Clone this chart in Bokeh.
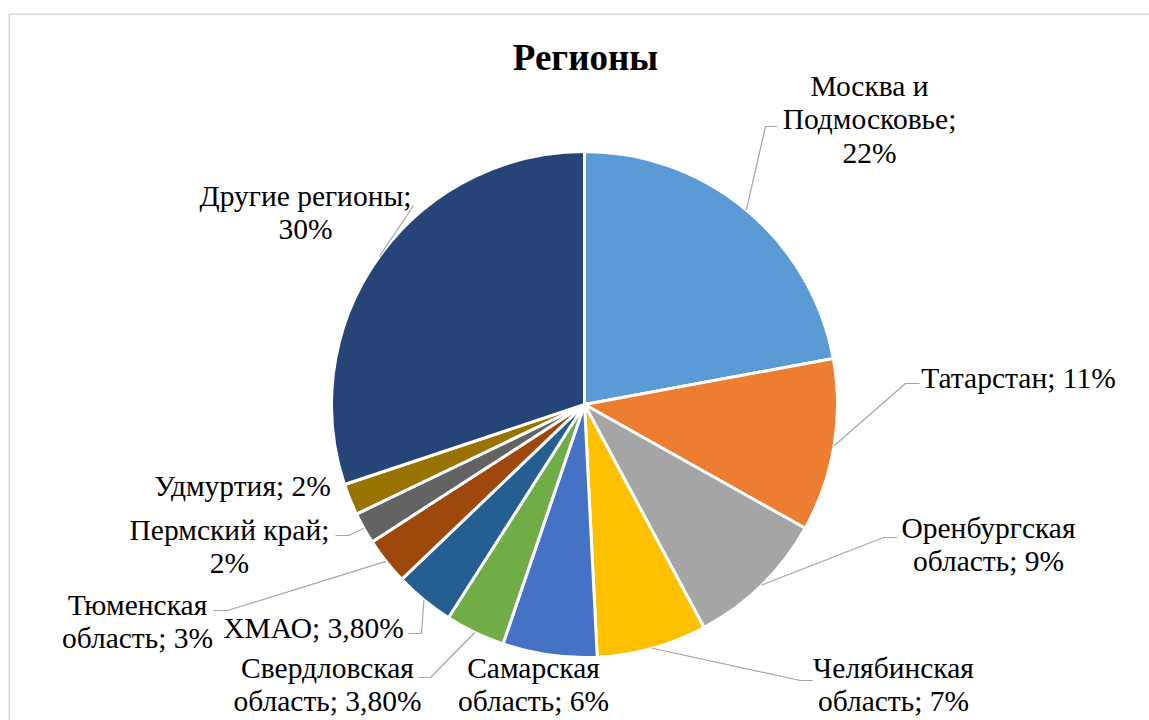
import math
from bokeh.plotting import figure
from bokeh.models import Range1d
from bokeh.core.properties import value
from bokeh.embed import file_html
from bokeh.resources import INLINE

# ---- data ----
regions = ["Москва и Подмосковье", "Татарстан", "Оренбургская область",
           "Челябинская область", "Самарская область", "Свердловская область",
           "ХМАО", "Тюменская область", "Пермский край", "Удмуртия", "Другие регионы"]
shares = [22, 11, 9, 7, 6, 3.8, 3.8, 3, 2, 2, 30]
share_labels = ["22%", "11%", "9%", "7%", "6%", "3,80%", "3,80%", "3%", "2%", "2%", "30%"]
label_texts = ["Москва и\nПодмосковье;\n22%", "Татарстан; 11%", "Оренбургская\nобласть; 9%",
               "Челябинская\nобласть; 7%", "Самарская\nобласть; 6%", "Свердловская\nобласть; 3,80%",
               "ХМАО; 3,80%", "Тюменская\nобласть; 3%", "Пермский край;\n2%", "Удмуртия; 2%",
               "Другие регионы;\n30%"]
colors = ["#5B9BD5", "#ED7D31", "#A5A5A5", "#FFC000", "#4472C4", "#70AD47",
          "#255E91", "#9E480E", "#636363", "#997300", "#264478"]
title = "Регионы"

# ---- layout (page pixel coordinates) ----
W, H = 1149, 720
def X(px): return px
def Y(py): return H - py

cx, cy, R = X(584), Y(404), 253
label_pos = [(869, 119), (1018, 377), (988, 544), (893, 684), (533, 684), (327, 684),
             (313, 627), (137, 621), (229, 546), (242, 485), (305, 212)]
# leader elbows and ends (None = no leader)
leaders = [((765, 126), (777, 126)), ((905, 383), (919, 383)), ((883, 537), (897, 537)),
           ((800, 680), (812, 680)), None, ((430, 677), (418, 677)),
           ((421, 633), (408, 633)), ((227, 610), (213, 610)), ((348, 535), (335, 535)),
           None, ((413, 205), (413, 205))]

p = figure(width=W, height=H, output_backend="svg", toolbar_location=None,
           x_range=Range1d(0, W), y_range=Range1d(0, H), min_border=0)
p.axis.visible = False
p.grid.visible = False
p.outline_line_color = None
p.background_fill_color = "white"

# chart border (top and left edges visible)
p.line(x=[X(8.7), X(8.7), W + 20], y=[-20, Y(13.7), Y(13.7)], line_color="#d9d9d9", line_width=1.6)

total = sum(shares)
starts, ends, mids = [], [], []
cum = 0.0
for s in shares:
    a0 = math.pi / 2 - 2 * math.pi * cum / total
    cum += s
    a1 = math.pi / 2 - 2 * math.pi * cum / total
    starts.append(a0); ends.append(a1); mids.append((a0 + a1) / 2)

p.wedge(x=cx, y=cy, radius=R, start_angle=starts, end_angle=ends, direction="clock",
        fill_color=colors, line_color="white", line_width=3)

# leader lines
for m, ld in zip(mids, leaders):
    if ld is None:
        continue
    sx, sy = cx + R * math.cos(m), cy + R * math.sin(m)
    (ex1, ey1), (ex2, ey2) = ld
    p.line(x=[sx, X(ex1), X(ex2)], y=[sy, Y(ey1), Y(ey2)], line_color="#a6a6a6", line_width=1.2)

# labels
p.text(x=[X(a) for a, b in label_pos], y=[Y(b) for a, b in label_pos], text=label_texts,
       text_font=value("Liberation Serif"), text_font_size="29.5px", text_color="#000000",
       text_align="center", text_baseline="middle", text_line_height=1.06)

# title
p.text(x=[X(585)], y=[Y(57)], text=[title], text_font=value("Liberation Serif"),
       text_font_size="37px", text_font_style="bold", text_color="#000000",
       text_align="center", text_baseline="middle")

open("out.html", "w").write(file_html(p, INLINE))
